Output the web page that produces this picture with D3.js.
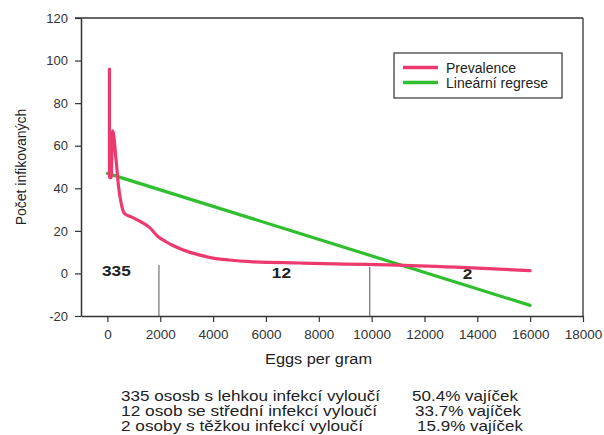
<!DOCTYPE html>
<html>
<head>
<meta charset="utf-8">
<script src="https://cdn.jsdelivr.net/npm/d3@7"></script>
<style>
  html, body { margin: 0; padding: 0; background: #fff; }
  svg { display: block; font-family: "Liberation Sans", Arial, Helvetica, sans-serif; }
</style>
</head>
<body>
<svg id="chart" width="604" height="435"></svg>
<script>
// ---- data ----
const prevalenceX = [76, 79, 140, 200, 330, 420, 520, 640, 900, 1300, 1600, 1900, 2200, 2500, 3100, 3500, 4000, 4600, 5400, 7300, 9000, 11000, 13600, 16000];
const prevalenceY = [96, 45, 45, 67, 53, 41, 33, 28.2, 26.6, 24, 21.5, 17.5, 15, 13, 10, 8.6, 7.2, 6.3, 5.5, 4.9, 4.4, 3.9, 2.7, 1.3];
const regressionX = [0, 16000];
const regressionY = [47, -15];
const xTicks = [0, 2000, 4000, 6000, 8000, 10000, 12000, 14000, 16000, 18000];
const yTicks = [-20, 0, 20, 40, 60, 80, 100, 120];
const dividerX = [1950, 9930];
const dividerTop = [4, 3];
const groupLabels = ["335", "12", "2"];
const groupLabelX = [340, 6586, 13627];
const groupLabelY = [-1.1, -2.3, -2.8];
const seriesNames = ["Prevalence", "Lineární regrese"];
const seriesColors = ["#ec3a6e", "#2fbf2f"];
const summaryLeft = [
  "335 ososb s lehkou infekcí vyloučí",
  "12 osob se střední infekcí vyloučí",
  "2 osoby s těžkou infekcí vyloučí"
];
const summaryRight = ["50.4% vajíček", "33.7% vajíček", "15.9% vajíček"];

// ---- layout ----
const svg = d3.select("#chart");
const L = 81, R = 583, T = 18, B = 316;
const x = d3.scaleLinear().domain([-1000, 18000]).range([L, R]);
const y = d3.scaleLinear().domain([-20, 120]).range([B, T]);
const axisColor = "#333";

// frame (top + right)
svg.append("line").attr("x1", L - 6).attr("x2", R).attr("y1", T).attr("y2", T)
  .attr("stroke", axisColor).attr("stroke-width", 1.3);
svg.append("line").attr("x1", R).attr("x2", R).attr("y1", T).attr("y2", B)
  .attr("stroke", axisColor).attr("stroke-width", 1.3);

// x axis
const gx = svg.append("g").attr("transform", `translate(0,${B})`)
  .call(d3.axisBottom(x).tickValues(xTicks).tickSize(6).tickSizeOuter(0).tickFormat(d => String(d)));
gx.select(".domain").attr("stroke", axisColor).attr("stroke-width", 1.5);
gx.selectAll(".tick line").attr("stroke", axisColor).attr("stroke-width", 1.2);
gx.selectAll(".tick text").attr("font-size", 13.5).attr("fill", "#333")
  .attr("font-family", "Liberation Sans, Arial, sans-serif").attr("y", 13);

// y axis
const gy = svg.append("g").attr("transform", `translate(${L},0)`)
  .call(d3.axisLeft(y).tickValues(yTicks).tickSize(6).tickSizeOuter(0).tickFormat(d => String(d)));
gy.select(".domain").attr("stroke", axisColor).attr("stroke-width", 1.5);
gy.selectAll(".tick line").attr("stroke", axisColor).attr("stroke-width", 1.2);
gy.selectAll(".tick text").attr("font-size", 13).attr("fill", "#333")
  .attr("font-family", "Liberation Sans, Arial, sans-serif").attr("x", -13);

// axis titles
svg.append("text").attr("x", 265).attr("y", 364).attr("font-size", 14)
  .attr("fill", "#222").attr("textLength", 107).attr("lengthAdjust", "spacingAndGlyphs")
  .text("Eggs per gram");
svg.append("text").attr("transform", "translate(26,167) rotate(-90)")
  .attr("text-anchor", "middle").attr("font-size", 14).attr("fill", "#222")
  .text("Počet infikovaných");

// dividers
svg.selectAll("line.div").data(dividerX).enter().append("line").attr("class", "div")
  .attr("x1", d => x(d)).attr("x2", d => x(d))
  .attr("y1", (d, i) => y(dividerTop[i])).attr("y2", B)
  .attr("stroke", "#555").attr("stroke-width", 1);

// group labels
svg.selectAll("text.grp").data(groupLabels).enter().append("text").attr("class", "grp")
  .attr("x", (d, i) => x(groupLabelX[i])).attr("y", (d, i) => y(groupLabelY[i]))
  .attr("text-anchor", "middle").attr("font-size", 14).attr("font-weight", "bold")
  .attr("fill", "#222").attr("textLength", d => d.length * 9.6).attr("lengthAdjust", "spacingAndGlyphs")
  .text(d => d);

// lines
const regData = regressionX.map((v, i) => [v, regressionY[i]]);
const prevData = prevalenceX.map((v, i) => [v, prevalenceY[i]]);
svg.append("path").datum(regData)
  .attr("d", d3.line().x(d => x(d[0])).y(d => y(d[1])))
  .attr("fill", "none").attr("stroke", seriesColors[1]).attr("stroke-width", 3.2)
  .attr("stroke-linecap", "round");
svg.append("path").datum(prevData)
  .attr("d", d3.line().x(d => x(d[0])).y(d => y(d[1])).curve(d3.curveMonotoneX))
  .attr("fill", "none").attr("stroke", seriesColors[0]).attr("stroke-width", 3.2)
  .attr("stroke-linejoin", "round").attr("stroke-linecap", "round");

// legend
const lg = svg.append("g");
lg.append("rect").attr("x", 394).attr("y", 53).attr("width", 168).attr("height", 45)
  .attr("fill", "#fff").attr("stroke", "#333").attr("stroke-width", 1.2);
seriesNames.forEach((name, i) => {
  const yy = 67.5 + i * 15;
  lg.append("line").attr("x1", 403).attr("x2", 438).attr("y1", yy).attr("y2", yy)
    .attr("stroke", seriesColors[i]).attr("stroke-width", 3.5);
  lg.append("text").attr("x", 446).attr("y", yy + 5).attr("font-size", 14)
    .attr("fill", "#222").text(name);
});

// summary text
const leftW = [259, 256, 242];
summaryLeft.forEach((t, i) => {
  svg.append("text").attr("x", 121).attr("y", 400.5 + i * 15)
    .attr("font-size", 14.5).attr("fill", "#222")
    .attr("textLength", leftW[i]).attr("lengthAdjust", "spacingAndGlyphs").text(t);
});
const rightX = [412, 415, 417];
summaryRight.forEach((t, i) => {
  svg.append("text").attr("x", rightX[i]).attr("y", 400.5 + i * 15)
    .attr("font-size", 14.5).attr("fill", "#222")
    .attr("textLength", 106).attr("lengthAdjust", "spacingAndGlyphs").text(t);
});
</script>
</body>
</html>
